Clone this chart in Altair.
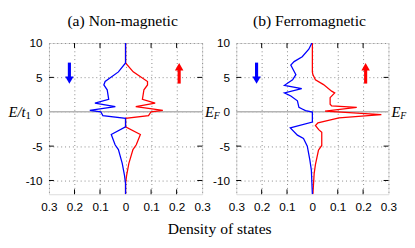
import altair as alt
import pandas as pd

# ---------------- data ----------------
# Panel (a) Non-magnetic
E_a_up = [10, 7.1, 5.8, 4.4, 3.9, 3.2, 1.8, 1.25, 0.75, 0.2, 0.0, -0.55, -0.95, -2.2, -3.3, -4.8, -5.5, -7.5, -9.3, -10.5, -12]
dos_a_up = [0, 0, 0.03, 0.086, 0.086, 0.072, 0.066, 0.116, 0.04, 0.146, 0.1, 0.09, 0, 0, 0.058, 0.042, 0.029, 0.013, 0.004, 0, 0]
E_a_dn = [10, 7.1, 5.8, 4.4, 3.9, 3.2, 1.8, 1.25, 0.75, 0.2, 0.0, -0.55, -0.95, -2.2, -3.3, -4.8, -5.5, -7.5, -9.3, -10.5, -12]
dos_a_dn = [0, 0, 0.028, 0.08, 0.085, 0.072, 0.066, 0.12, 0.04, 0.14, 0.097, 0.089, 0, 0, 0.056, 0.041, 0.028, 0.013, 0.004, 0, 0]

# Panel (b) Ferromagnetic
E_b_up = [10, 5.8, 5.4, 4.65, 3.95, 3.0, 2.75, 2.05, 1.1, 0.85, 0.64, 0.1, -0.4, -0.9, -1.6, -2.0, -2.6, -3.0, -4.9, -5.6, -7.7, -9.0, -12]
dos_b_up = [0, 0, 0.002, 0.012, 0.044, 0.076, 0.088, 0.07, 0.07, 0.076, 0.175, 0.05, 0.272, 0.105, 0.022, 0.012, 0.025, 0.037, 0.037, 0.024, 0.012, 0.007, 0.002]
E_b_dn = [10, 9.1, 8.0, 7.3, 6.8, 6.3, 5.4, 4.65, 3.85, 3.35, 2.75, 2.3, 1.6, 0.64, 0.4, 0.17, -0.05, -1.5, -2.35, -3.4, -3.9, -5.0, -7.0, -8.5, -10.2, -12]
dos_b_dn = [0.002, 0.014, 0.04, 0.072, 0.085, 0.078, 0.065, 0.078, 0.11, 0.042, 0.11, 0.085, 0.059, 0.053, 0.04, 0.027, 0, 0, 0.087, 0.059, 0.035, 0.02, 0.01, 0.004, 0.002, 0]

titles = ["(a) Non-magnetic", "(b) Ferromagnetic"]
x_ticks = [-0.3, -0.2, -0.1, 0, 0.1, 0.2, 0.3]
y_ticks = [-10, -5, 0, 5, 10]
inner_x = [-0.2, -0.1, 0.1, 0.2]
inner_y = [-10, -5, 5]
spins = ["up", "down"]
spin_colors = ["#ff0000", "#0000ff"]

# spin arrows: x position, shaft from/to, head centre, head shape
arrow_spin = ["down", "up"]
arrow_x = [-0.22, 0.21]
arrow_y1 = [7.15, 4.1]
arrow_y2 = [5.0, 6.2]
arrow_head = [4.6, 6.55]
arrow_shape = ["triangle-down", "triangle-up"]

W = [157, 156]
H = 155
SERIF = "Liberation Serif"
SANS = "Liberation Sans"

xs = alt.Scale(domain=[-0.3, 0.3], nice=False, zero=False)
ys = alt.Scale(domain=[-12, 10], nice=False, zero=False)
cs = alt.Scale(domain=spins, range=spin_colors)

X_LABELS = "datum.value == 0 ? '0' : format(abs(datum.value), '.1f')"


def make_df(E_up, up, E_dn, dn):
    rows = []
    for i, (e, v) in enumerate(zip(E_up, up)):
        rows.append({"E": e, "dos": v, "spin": "up", "i": i})
    for i, (e, v) in enumerate(zip(E_dn, dn)):
        rows.append({"E": e, "dos": -v, "spin": "down", "i": i})
    return pd.DataFrame(rows)


def panel(df, title, w, x_title, left_label):
    common = dict(grid=True, gridDash=[1, 3], gridColor="#888888", gridWidth=1,
                  ticks=False, domain=False, labelFont=SANS, labelFontSize=12,
                  labelColor="black", labelFlush=False)
    if x_title:
        xaxis = alt.Axis(values=x_ticks, labelPadding=8, labelExpr=X_LABELS,
                         title=x_title, titleFont=SERIF, titleFontSize=16,
                         titleFontWeight="normal", titleColor="black",
                         titleX=w + 17.5, titleY=40, titleBaseline="alphabetic",
                         titleAlign="center", **common)
    else:
        xaxis = alt.Axis(values=x_ticks, labelPadding=8, labelExpr=X_LABELS,
                         title=None, **common)
    yaxis = alt.Axis(values=y_ticks, labelPadding=7, title=None,
                     labelExpr="'' + datum.value", **common)

    def X(f):
        return alt.X(f, scale=xs, axis=xaxis)

    def Y(f):
        return alt.Y(f, scale=ys, axis=yaxis)

    zero = alt.Chart(pd.DataFrame({"E": [0]})).mark_rule(color="#b4b4b4", strokeWidth=1.5).encode(
        y=Y("E:Q"))

    lines = alt.Chart(df).mark_line(strokeWidth=1.3, clip=True).encode(
        x=X("dos:Q"),
        y=Y("E:Q"),
        color=alt.Color("spin:N", scale=cs, legend=None),
        order=alt.Order("i:Q"),
    )

    dx = pd.DataFrame({"v": inner_x})
    dy = pd.DataFrame({"v": inner_y})
    tick_style = dict(color="black", strokeWidth=1)
    t_top = alt.Chart(dx).mark_rule(**tick_style).encode(
        x=X("v:Q"), y=alt.value(0), y2=alt.value(5))
    t_bot = alt.Chart(dx).mark_rule(**tick_style).encode(
        x=X("v:Q"), y=alt.value(H), y2=alt.value(H - 5))
    t_left = alt.Chart(dy).mark_rule(**tick_style).encode(
        y=Y("v:Q"), x=alt.value(0), x2=alt.value(5))
    t_right = alt.Chart(dy).mark_rule(**tick_style).encode(
        y=Y("v:Q"), x=alt.value(w), x2=alt.value(w - 5))

    adf = pd.DataFrame({"spin": arrow_spin, "x": arrow_x, "y1": arrow_y1, "y2": arrow_y2,
                        "h": arrow_head, "shape": arrow_shape})
    shaft = alt.Chart(adf).mark_rule(strokeWidth=3.2).encode(
        x=X("x:Q"), y=Y("y1:Q"), y2="y2:Q",
        color=alt.Color("spin:N", scale=cs, legend=None))
    head = alt.Chart(adf).mark_point(filled=True, opacity=1, size=75, strokeWidth=0).encode(
        x=X("x:Q"), y=Y("h:Q"),
        shape=alt.Shape("shape:N", scale=None, legend=None),
        color=alt.Color("spin:N", scale=cs, legend=None))

    lab = pd.DataFrame({"E": [0]})
    ef_main = alt.Chart(lab).mark_text(text="E", font=SERIF, fontSize=15, fontStyle="italic",
                                       align="left", baseline="middle", color="black").encode(
        x=alt.value(w + 3), y=Y("E:Q"))
    ef_sub = alt.Chart(lab).mark_text(text="F", font=SERIF, fontSize=10, fontStyle="italic",
                                      align="left", baseline="middle", color="black", dy=4).encode(
        x=alt.value(w + 12), y=Y("E:Q"))
    layers = [zero, lines, t_top, t_bot, t_left, t_right, shaft, head, ef_main, ef_sub]
    if left_label:
        et = alt.Chart(lab).mark_text(text="E/t", font=SERIF, fontSize=15, fontStyle="italic",
                                      align="right", baseline="middle", color="black").encode(
            x=alt.value(-24), y=Y("E:Q"))
        e1 = alt.Chart(lab).mark_text(text="1", font=SERIF, fontSize=11,
                                      align="left", baseline="middle", color="black", dy=4).encode(
            x=alt.value(-24), y=Y("E:Q"))
        layers += [et, e1]

    return alt.layer(*layers).properties(
        width=w, height=H,
        title=alt.TitleParams(title, font=SERIF, fontSize=16, fontWeight="normal", color="black",
                              anchor="middle", frame="group", dx=-3, offset=8),
    )


df_a = make_df(E_a_up, dos_a_up, E_a_dn, dos_a_dn)
df_b = make_df(E_b_up, dos_b_up, E_b_dn, dos_b_dn)

pa = panel(df_a, titles[0], W[0], "Density of states", True)
pb = panel(df_b, titles[1], W[1], None, False)

chart = alt.hconcat(pa, pb, spacing=35, bounds="flush",
                    padding={"left": 0, "top": 2, "right": 0, "bottom": 0}).configure_view(
    stroke="black", strokeWidth=1.5
).configure(background="white")

chart.save("out.html", embed_options={"renderer": "svg", "actions": False})
